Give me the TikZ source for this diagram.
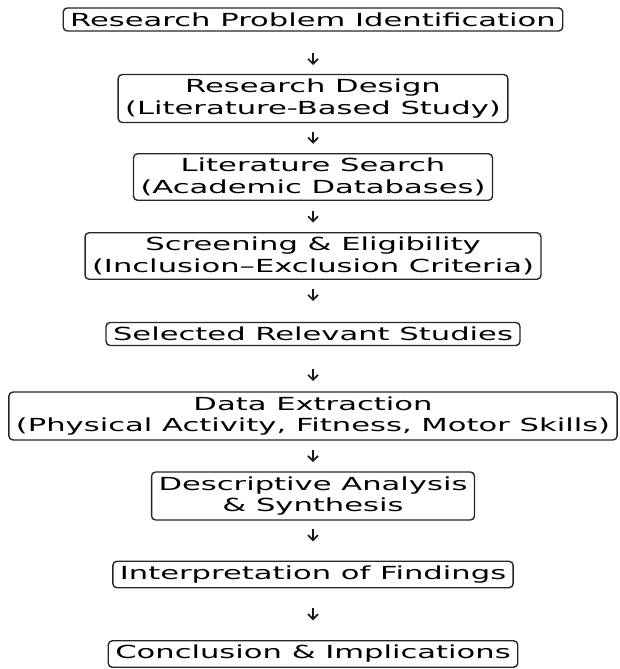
\documentclass[tikz,border=0pt]{standalone}
\usepackage{fontspec}
\setmainfont{DejaVu Sans}[FakeStretch=1.70]
\usetikzlibrary{arrows.meta,calc}
\begin{document}
\begin{tikzpicture}[x=1pt,y=-1pt,
  stepbox/.style={draw=black!85, rounded corners=4pt, line width=1.4pt,
    inner xsep=7pt, inner ysep=4.5pt, align=center,
    font=\fontsize{18}{21.5}\selectfont},
  flow/.style={draw=black!90, line width=1.6pt,
    -{Straight Barb[length=5pt,width=10pt,line width=1.6pt]}}]
\useasboundingbox (0,0) rectangle (619,669);

% process steps, top to bottom
\node[stepbox] (b1) at (313,19.5) {Research Problem Identification};
\node[stepbox] (b2) at (313,98.5) {Research Design\\(Literature-Based Study)};
\node[stepbox] (b3) at (313,177) {Literature Search\\(Academic Databases)};
\node[stepbox] (b4) at (313,256) {Screening \& Eligibility\\(Inclusion–Exclusion Criteria)};
\node[stepbox] (b5) at (313,334) {Selected Relevant Studies};
\node[stepbox] (b6) at (313,416) {Data Extraction\\(Physical Activity, Fitness, Motor Skills)};
\node[stepbox] (b7) at (313,496) {Descriptive Analysis\\\& Synthesis};
\node[stepbox] (b8) at (313,574.5) {Interpretation of Findings};
\node[stepbox] (b9) at (313,654) {Conclusion \& Implications};

% short arrows centred between consecutive steps
\foreach \a/\b in {b1/b2,b2/b3,b3/b4,b4/b5,b5/b6,b6/b7,b7/b8,b8/b9}
  \draw[flow] ($(\a)!0.5!(\b)+(0,-6)$) -- ($(\a)!0.5!(\b)+(0,6)$);
\end{tikzpicture}
\end{document}
